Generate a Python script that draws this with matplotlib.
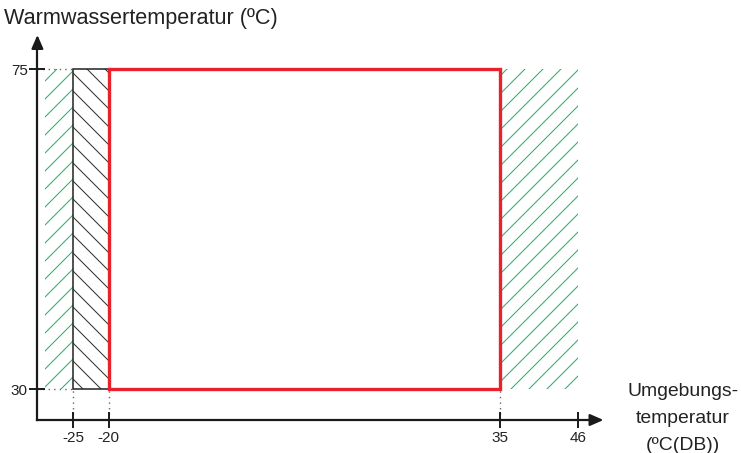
import matplotlib
matplotlib.use("Agg")
import matplotlib.pyplot as plt
from matplotlib.patches import Rectangle

# Rendered at 108 dpi so the hatch spacing (one hatch unit = 1 inch) comes out
# a little wider; point sizes are scaled back by S to keep their pixel size.
DPI = 108
S = 100 / DPI

plt.rcParams['font.family'] = ['Liberation Sans', 'DejaVu Sans']
plt.rcParams['hatch.linewidth'] = 0.75 * S

# Operating envelope (ambient temperature vs. hot water temperature)
water_min, water_max = 30, 75
main_range = (-20, 35)          # normal operation
aux_range = (-25, -20)          # operation with restrictions
ext_left = (-29, -25)           # extended ranges (green hatch)
ext_right = (35, 46)
x_ticks = [-25, -20, 35, 46]
x_tick_labels = ['-25', '-20', '35', '46']
y_ticks = [30, 75]
y_tick_labels = ['30', '75']
dotted_x = [-25, -20, 35]
y_title = 'Warmwassertemperatur (ºC)'
x_title_lines = ['Umgebungs-', 'temperatur', '(ºC(DB))']

x_axis_start, x_axis_end = -30, 50
y_axis_start, y_axis_end = 25.64, 80.2

fig = plt.figure(figsize=(741 / DPI, 454 / DPI), dpi=DPI)
ax = fig.add_axes([0, 0, 1, 1])
ax.set_xlim(-35.26, 68.91)
ax.set_ylim(21.0, 84.84)
ax.patch.set_alpha(0)

green = '#2bb068'
red = '#e8212b'

# extended ranges
for lo, hi in (ext_left, ext_right):
    ax.add_patch(Rectangle((lo, water_min), hi - lo, water_max - water_min,
                           facecolor='none', edgecolor=green, hatch='//',
                           linewidth=0, zorder=1))

# restricted range
ax.add_patch(Rectangle((aux_range[0], water_min), aux_range[1] - aux_range[0],
                       water_max - water_min, facecolor='none',
                       edgecolor='#333333', hatch='\\\\', linewidth=0, zorder=2))
ax.add_patch(Rectangle((aux_range[0], water_min), aux_range[1] - aux_range[0],
                       water_max - water_min, facecolor='none',
                       edgecolor='#222222', linewidth=1.1 * S, zorder=3))

# main range
ax.add_patch(Rectangle((main_range[0], water_min), main_range[1] - main_range[0],
                       water_max - water_min, facecolor='none',
                       edgecolor=red, linewidth=2.4 * S, zorder=4))

# dotted guide lines
for y in y_ticks:
    ax.plot([x_axis_start, aux_range[0]], [y, y], linestyle=(0, (1, 3)),
            color='#666666', linewidth=1.0 * S, zorder=1)
for x in dotted_x:
    ax.plot([x, x], [y_axis_start, water_min], linestyle=(0, (1, 3)),
            color='#666666', linewidth=1.0 * S, zorder=1)

# axes as spines with arrows
for s in ('top', 'right'):
    ax.spines[s].set_visible(False)
ax.spines['left'].set_position(('data', x_axis_start))
ax.spines['bottom'].set_position(('data', y_axis_start))
ax.spines['left'].set_bounds(y_axis_start, y_axis_end - 1.5)
ax.spines['bottom'].set_bounds(x_axis_start, x_axis_end - 1.5)
for s in ('left', 'bottom'):
    ax.spines[s].set_linewidth(1.6 * S)
    ax.spines[s].set_color('#1a1a1a')

ax.set_xticks(x_ticks)
ax.set_xticklabels(x_tick_labels)
ax.set_yticks(y_ticks)
ax.set_yticklabels(y_tick_labels)
ax.tick_params(axis='both', direction='inout', length=12 * S, width=1.4 * S,
               color='#1a1a1a', labelsize=11 * S, pad=1 * S, labelcolor='#222222')

arrow = dict(arrowstyle='-|>,head_length=0.8,head_width=0.35',
             color='#1a1a1a', lw=1.6 * S, mutation_scale=10 * S)
ax.annotate('', xy=(x_axis_start, y_axis_end), xytext=(x_axis_start, y_axis_end - 2.5),
            arrowprops=arrow)
ax.annotate('', xy=(x_axis_end, y_axis_start), xytext=(x_axis_end - 2.5, y_axis_start),
            arrowprops=arrow)

fig.text(0.005, 0.96, y_title, fontsize=15.6 * S,
         ha='left', va='center', color='#222222')
for i, line in enumerate(x_title_lines):
    fig.text(0.9217, 0.1278 - i * 0.0595, line, fontsize=14 * S,
             ha='center', va='baseline', color='#222222')

fig.savefig('out.png', dpi=DPI)
